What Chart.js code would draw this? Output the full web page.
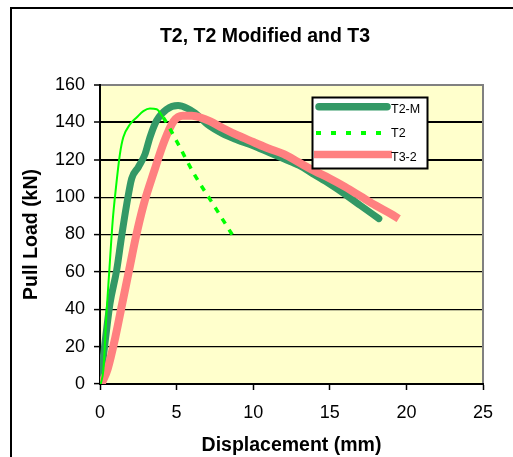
<!DOCTYPE html>
<html><head><meta charset="utf-8">
<script src="https://cdn.jsdelivr.net/npm/chart.js@4"></script>
<style>html,body{margin:0;padding:0;background:#fff;}canvas{display:block}</style>
</head><body>
<canvas id="c" width="513" height="457"></canvas>
<script>
const chartTitle = 'T2, T2 Modified and T3';
const xTitle = 'Displacement (mm)';
const yTitle = 'Pull Load (kN)';
const seriesNames = ['T2-M', 'T2', 'T3-2'];
const seriesColors = ['#339966', '#00FF00', '#FF8080'];

// T2-M (displacement mm, load kN)
const t2mX = [0.0, 0.11, 0.37, 0.65, 1.09, 1.41, 1.74, 2.07, 2.5, 2.94, 3.26, 3.7, 4.35, 5.1, 5.7, 6.2, 7.0, 8.0, 9.0, 10.0, 11.0, 12.0, 13.0, 14.0, 15.0, 16.0, 17.0, 18.2];
const t2mY = [2, 7.5, 25, 43, 61, 79, 96, 110, 116, 123, 132, 141, 147, 149, 147.5, 145, 139, 134, 130.5, 127.5, 124, 120.5, 117, 112, 107, 101.5, 95.5, 88.5];
// T2
const t2X = [0.05, 0.22, 0.43, 0.61, 0.83, 1.04, 1.3, 1.52, 1.96, 2.39, 2.83, 3.26, 3.7, 4.13, 5.0, 6.1, 7.4, 8.7];
const t2Y = [0, 7.5, 38.6, 61, 87.5, 105, 123, 132, 139, 142.6, 146, 147.4, 147, 142.6, 130, 113, 96, 79];
// T3-2
const t3X = [0.1, 0.5, 1.0, 1.45, 1.9, 2.35, 2.85, 3.5, 4.2, 4.8, 5.4, 6.0, 6.6, 7.2, 8.0, 9.0, 10.0, 11.0, 12.0, 13.0, 14.0, 15.0, 16.0, 17.0, 18.0, 19.0, 19.5];
const t3Y = [0, 8, 25, 43, 61, 79, 96, 113, 130, 140.5, 143.5, 143.5, 142.5, 140.5, 137, 133, 129.5, 126, 123, 118.5, 114, 110, 105.5, 100.5, 95.5, 91, 88.5];

const xTicks = [0, 5, 10, 15, 20, 25];
const yTicks = [0, 20, 40, 60, 80, 100, 120, 140, 160];

const FONT = '"Liberation Sans", Arial, sans-serif';
const pts = (xs, ys) => xs.map((x, i) => ({x, y: ys[i]}));

const deco = {
  id: 'deco',
  beforeDraw(chart) {
    const {ctx, chartArea: a} = chart;
    ctx.save();
    ctx.fillStyle = '#fff';
    ctx.fillRect(0, 0, chart.width, chart.height);
    ctx.fillStyle = '#FFFFCC';
    ctx.fillRect(a.left, a.top, a.right - a.left, a.bottom - a.top);
    ctx.restore();
  },
  beforeDatasetsDraw(chart) {
    const {ctx, chartArea: a} = chart;
    ctx.save();
    ctx.strokeStyle = '#808080';
    ctx.lineWidth = 2;
    ctx.beginPath();
    ctx.moveTo(a.right, a.top - 1);
    ctx.lineTo(a.right, a.bottom - 1);
    ctx.stroke();
    ctx.restore();
  },
  afterDraw(chart) {
    const {ctx} = chart;
    ctx.save();
    // outer frame
    ctx.fillStyle = '#000';
    ctx.fillRect(10, 7, 503, 2);
    ctx.fillRect(10, 7, 2, 450);
    // title
    ctx.font = 'bold 19.5px ' + FONT;
    ctx.textAlign = 'center';
    ctx.textBaseline = 'alphabetic';
    ctx.fillText(chartTitle, 265, 41.5);
    // legend
    ctx.fillStyle = '#fff';
    ctx.fillRect(312, 97, 116, 72);
    ctx.strokeStyle = '#000';
    ctx.lineWidth = 2;
    ctx.strokeRect(312.5, 97.5, 115, 71);
    const ds = chart.data.datasets;
    const rowsY = [106.7, 133, 154.5];
    const textY = [112.7, 136.7, 161];
    ds.forEach((d, i) => {
      ctx.save();
      ctx.strokeStyle = d.borderColor;
      if (i === 0) { ctx.lineWidth = 7.5; ctx.lineCap = 'round'; ctx.setLineDash([]); ctx.beginPath(); ctx.moveTo(319, rowsY[i]); ctx.lineTo(387, rowsY[i]); ctx.stroke(); }
      if (i === 1) { ctx.lineWidth = 4; ctx.lineCap = 'butt'; ctx.setLineDash([5, 10]); ctx.beginPath(); ctx.moveTo(316, rowsY[i]); ctx.lineTo(383, rowsY[i]); ctx.stroke(); }
      if (i === 2) { ctx.lineWidth = 7.5; ctx.lineCap = 'butt'; ctx.setLineDash([]); ctx.beginPath(); ctx.moveTo(314, rowsY[i]); ctx.lineTo(392, rowsY[i]); ctx.stroke(); }
      ctx.restore();
      ctx.fillStyle = '#000';
      ctx.font = '12.5px ' + FONT;
      ctx.textAlign = 'left';
      ctx.fillText(d.label, 391, textY[i]);
    });
    ctx.restore();
  }
};

new Chart(document.getElementById('c'), {
  type: 'line',
  data: {
    datasets: [
      {label: seriesNames[0], data: pts(t2mX, t2mY), borderColor: seriesColors[0], borderWidth: 7, pointRadius: 0,
       borderCapStyle: 'round', borderJoinStyle: 'round', cubicInterpolationMode: 'monotone', order: 2},
      {label: seriesNames[1], data: pts(t2X, t2Y), borderColor: seriesColors[1], borderWidth: 2, pointRadius: 0,
       borderCapStyle: 'butt', borderJoinStyle: 'round', cubicInterpolationMode: 'monotone', order: 0,
       segment: {
         borderDash: c => (c.p0.parsed.x >= 4.1 ? [6, 7] : undefined),
         borderWidth: c => (c.p0.parsed.x >= 4.1 ? 3.5 : undefined)
       }},
      {label: seriesNames[2], data: pts(t3X, t3Y), borderColor: seriesColors[2], borderWidth: 8, pointRadius: 0,
       borderCapStyle: 'butt', borderJoinStyle: 'round', cubicInterpolationMode: 'monotone', order: 1}
    ]
  },
  options: {
    responsive: false,
    animation: false,
    layout: {padding: {top: 85, right: 30, left: 0, bottom: 0}},
    plugins: {legend: {display: false}, title: {display: false}, tooltip: {enabled: false}},
    scales: {
      x: {
        type: 'linear', min: 0, max: 25,
        afterBuildTicks: s => { s.ticks = xTicks.map(v => ({value: v})); },
        ticks: {color: '#000', font: {family: FONT, size: 18}, padding: 12, maxRotation: 0, autoSkip: false},
        grid: {drawOnChartArea: false, drawTicks: true, tickLength: 6, tickColor: '#000', tickWidth: 1.5},
        border: {color: '#000', width: 2},
        title: {display: true, text: xTitle, color: '#000', font: {family: FONT, size: 19.5, weight: 'bold'}, padding: {top: 0, bottom: 0}},
        afterFit: s => { s.height = 73; }
      },
      y: {
        type: 'linear', min: 0, max: 160,
        afterBuildTicks: s => { s.ticks = yTicks.map(v => ({value: v})); },
        ticks: {color: '#000', font: {family: FONT, size: 18}, padding: 9, autoSkip: false},
        grid: {
          color: c => (c.tick && c.tick.value === 160 ? '#808080' : '#000'),
          lineWidth: c => (c.tick && c.tick.value === 160 ? 2 : (c.tick && (c.tick.value === 140 || c.tick.value === 120) ? 2 : 1.2)),
          tickLength: 6, tickColor: '#000', tickWidth: 1.5
        },
        border: {color: '#000', width: 2},
        title: {display: true, text: yTitle, color: '#000', font: {family: FONT, size: 19.5, weight: 'bold'}, padding: {top: 20, bottom: 0}},
        afterFit: s => { s.width = 100; }
      }
    }
  },
  plugins: [deco]
});
</script>
</body></html>
